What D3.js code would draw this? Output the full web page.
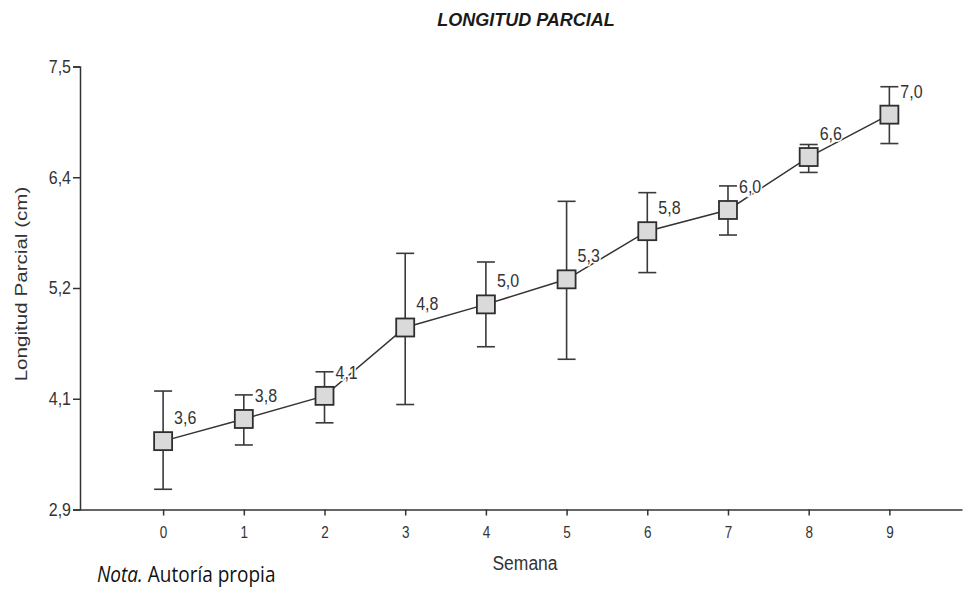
<!DOCTYPE html>
<html>
<head>
<meta charset="utf-8">
<script src="https://cdn.jsdelivr.net/npm/d3@7"></script>
<style>
	body { margin: 0; background: #fff; }
	svg { display: block; font-family: "Liberation Sans", Arial, sans-serif; }
	.axis path, .axis line { stroke: #333; stroke-width: 1.5; }
	.axis text { fill: #333; }
</style>
</head>
<body>
<div id="chart"></div>
<script>
// data
var weeks = [0, 1, 2, 3, 4, 5, 6, 7, 8, 9];
var means = [3.61, 3.84, 4.08, 4.79, 5.03, 5.29, 5.79, 6.01, 6.56, 7.00];
var upper = [4.13, 4.09, 4.33, 5.56, 5.47, 6.10, 6.19, 6.26, 6.69, 7.29];
var lower = [3.11, 3.57, 3.80, 3.99, 4.59, 4.46, 5.36, 5.75, 6.40, 6.70];
var valueLabels = ["3,6", "3,8", "4,1", "4,8", "5,0", "5,3", "5,8", "6,0", "6,6", "7,0"];
var yTicks = [2.9, 4.05, 5.2, 6.35, 7.5];
var yTickLabels = ["2,9", "4,1", "5,2", "6,4", "7,5"];

var W = 966, H = 589;
var BOX = 18, CAP = 18;
var STRETCH = 1.15; // the source picture is a bit stretched vertically

var svg = d3.select("#chart").append("svg")
	.attr("width", W)
	.attr("height", H);

var x = d3.scaleLinear().domain([-1.03, 9.9]).range([80, 962]);
var y = d3.scaleLinear().domain([2.9, 7.5]).range([509.5, 66.5]);

var points = weeks.map(function(w, i) {
	return {w: w, m: means[i], hi: upper[i], lo: lower[i], label: valueLabels[i]};
});

// axes
var yAxis = d3.axisLeft(y)
	.tickValues(yTicks)
	.tickFormat(function(d, i) { return yTickLabels[i]; })
	.tickSize(7)
	.tickPadding(2);

svg.append("g")
	.attr("class", "axis y")
	.attr("transform", "translate(" + x.range()[0] + ",0)")
	.call(yAxis)
	.selectAll("text")
		.style("font-size", "16px")
		.attr("transform", "scale(1," + STRETCH + ")");

var xAxis = d3.axisBottom(x)
	.tickValues(weeks)
	.tickSize(6)
	.tickSizeOuter(0)
	.tickPadding(8);

svg.append("g")
	.attr("class", "axis x")
	.attr("transform", "translate(0," + y.range()[0] + ")")
	.call(xAxis)
	.selectAll("text")
		.style("font-size", "13.5px")
		.attr("transform", "scale(1,1.2)");

// connecting line
var line = d3.line()
	.x(function(d) { return x(d.w); })
	.y(function(d) { return y(d.m); });

svg.append("path")
	.datum(points)
	.attr("d", line)
	.attr("fill", "none")
	.attr("stroke", "#333")
	.attr("stroke-width", 1.5);

// error bars
var err = svg.append("g").attr("stroke", "#3a3a3a").attr("stroke-width", 1.6);

err.selectAll(".stem").data(points).enter().append("line")
	.attr("x1", function(d) { return x(d.w); })
	.attr("x2", function(d) { return x(d.w); })
	.attr("y1", function(d) { return y(d.hi); })
	.attr("y2", function(d) { return y(d.lo); });

err.selectAll(".capHi").data(points).enter().append("line")
	.attr("x1", function(d) { return x(d.w) - CAP / 2; })
	.attr("x2", function(d) { return x(d.w) + CAP / 2; })
	.attr("y1", function(d) { return y(d.hi); })
	.attr("y2", function(d) { return y(d.hi); });

err.selectAll(".capLo").data(points).enter().append("line")
	.attr("x1", function(d) { return x(d.w) - CAP / 2; })
	.attr("x2", function(d) { return x(d.w) + CAP / 2; })
	.attr("y1", function(d) { return y(d.lo); })
	.attr("y2", function(d) { return y(d.lo); });

// square markers
svg.selectAll(".box").data(points).enter().append("rect")
	.attr("x", function(d) { return x(d.w) - BOX / 2; })
	.attr("y", function(d) { return y(d.m) - BOX / 2; })
	.attr("width", BOX)
	.attr("height", BOX)
	.attr("fill", "#dadada")
	.attr("stroke", "#2e2e2e")
	.attr("stroke-width", 1.8);

// value labels with white halo so they break the line
svg.selectAll(".val").data(points).enter().append("text")
	.attr("transform", function(d) {
		return "translate(" + (x(d.w) + 11) + "," + (y(d.m) - 17) + ") scale(1," + STRETCH + ")";
	})
	.attr("font-size", "16px")
	.attr("fill", "#333")
	.attr("stroke", "#fff")
	.attr("stroke-width", 3)
	.attr("paint-order", "stroke")
	.text(function(d) { return d.label; });

// title
svg.append("text")
	.attr("x", 526)
	.attr("y", 26)
	.attr("text-anchor", "middle")
	.attr("font-size", "18px")
	.attr("font-weight", "bold")
	.attr("font-style", "italic")
	.attr("fill", "#1a1a1a")
	.text("LONGITUD PARCIAL");

// axis titles
svg.append("text")
	.attr("transform", "translate(27,284) scale(1,1.25) rotate(-90)")
	.attr("text-anchor", "middle")
	.attr("font-size", "16.5px")
	.attr("fill", "#333")
	.text("Longitud Parcial (cm)");

svg.append("text")
	.attr("transform", "translate(525,570) scale(1,1.2)")
	.attr("text-anchor", "middle")
	.attr("font-size", "17.5px")
	.attr("fill", "#333")
	.text("Semana");

// note
var nota = svg.append("text")
	.attr("transform", "translate(97,582) scale(1,1.1)")
	.attr("font-family", "'Open Sans', sans-serif")
	.attr("font-size", "19px")
	.attr("fill", "#111");
nota.append("tspan").attr("font-style", "italic").text("Nota.");
nota.append("tspan").text(" Autoría propia");
</script>
</body>
</html>
